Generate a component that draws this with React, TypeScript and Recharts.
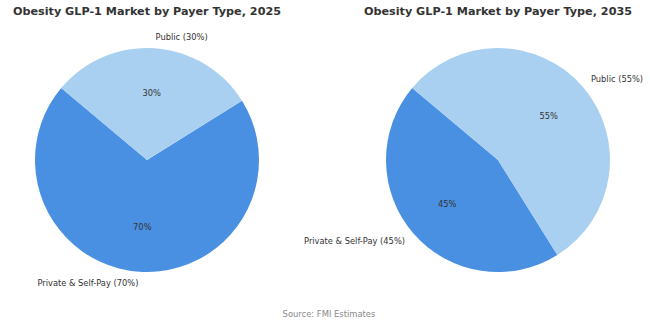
import { PieChart, Pie, Cell } from "recharts";

const payerTypes = ["Private & Self-Pay", "Public"];
const share2025 = [70, 30];
const share2035 = [45, 55];
const chartTitles = [
  "Obesity GLP-1 Market by Payer Type, 2025",
  "Obesity GLP-1 Market by Payer Type, 2035",
];
const sourceNote = "Source: FMI Estimates";

const COLORS = ["#4A90E2", "#A9D0F1"];
const FONT = "'DejaVu Sans', sans-serif";
const RADIAN = Math.PI / 180;

const data2025 = payerTypes.map((name, i) => ({ name, value: share2025[i] }));
const data2035 = payerTypes.map((name, i) => ({ name, value: share2035[i] }));

// outer label at 1.1r (matplotlib style), percentage at 0.6r
const renderLabel = (props: any) => {
  const { cx, cy, midAngle, outerRadius, name, value } = props;
  const cos = Math.cos(-midAngle * RADIAN);
  const sin = Math.sin(-midAngle * RADIAN);
  const ox = cx + outerRadius * 1.1 * cos;
  const oy = cy + outerRadius * 1.1 * sin;
  const ix = cx + outerRadius * 0.6 * cos;
  const iy = cy + outerRadius * 0.6 * sin;
  return (
    <g>
      <text
        x={ox}
        y={oy}
        fill="#333"
        fontSize={8.3}
        fontFamily={FONT}
        textAnchor={cos >= 0 ? "start" : "end"}
        dominantBaseline="central"
      >
        {`${name} (${value}%)`}
      </text>
      <text
        x={ix}
        y={iy}
        fill="#333"
        fontSize={8.3}
        fontFamily={FONT}
        textAnchor="middle"
        dominantBaseline="central"
      >
        {`${value}%`}
      </text>
    </g>
  );
};

export default function App() {
  return (
    <div style={{ position: "absolute", left: 0, top: 0, width: 650, height: 326, background: "#fff" }}>
      <PieChart width={650} height={326} margin={{ top: 0, right: 0, bottom: 0, left: 0 }}>
        <text x={147} y={11} textAnchor="middle" dominantBaseline="central" fontSize={11.2} fontWeight="bold" fill="#333" fontFamily={FONT}>
          {chartTitles[0]}
        </text>
        <text x={498} y={11} textAnchor="middle" dominantBaseline="central" fontSize={11.2} fontWeight="bold" fill="#333" fontFamily={FONT}>
          {chartTitles[1]}
        </text>
        <Pie
          data={data2025}
          dataKey="value"
          cx={147}
          cy={160}
          outerRadius={112}
          startAngle={140}
          endAngle={500}
          stroke="none"
          label={renderLabel}
          labelLine={false}
          isAnimationActive={false}
        >
          {data2025.map((d, i) => (
            <Cell key={d.name} fill={COLORS[i]} />
          ))}
        </Pie>
        <Pie
          data={data2035}
          dataKey="value"
          cx={498}
          cy={160}
          outerRadius={112}
          startAngle={140}
          endAngle={500}
          stroke="none"
          label={renderLabel}
          labelLine={false}
          isAnimationActive={false}
        >
          {data2035.map((d, i) => (
            <Cell key={d.name} fill={COLORS[i]} />
          ))}
        </Pie>
        <text x={329} y={314} textAnchor="middle" dominantBaseline="central" fontSize={8.4} fill="#888" fontFamily={FONT}>
          {sourceNote}
        </text>
      </PieChart>
    </div>
  );
}
